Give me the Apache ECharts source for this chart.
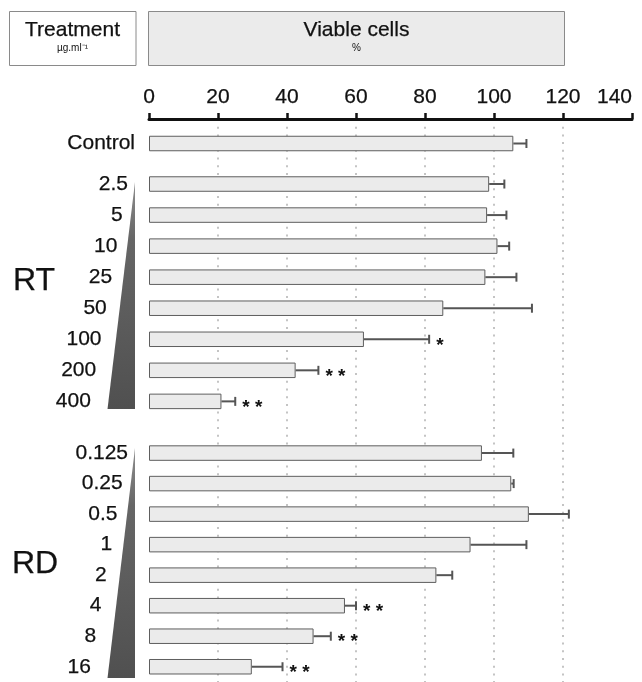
<!DOCTYPE html>
<html>
<head>
<meta charset="utf-8">
<script src="https://cdn.jsdelivr.net/npm/echarts@6/dist/echarts.min.js"></script>
<style>
  html, body { margin: 0; padding: 0; background: #fff; }
  #main { width: 642px; height: 682px; }
</style>
</head>
<body>
<div id="main"></div>
<script>
// data (viable cells, %)
let controlLabels = ['Control'];
let controlMean = [105.6];
let controlSd = [3.8];
let controlSig = [''];

let rtDoses = ['2.5', '5', '10', '25', '50', '100', '200', '400'];
let rtMean = [98.6, 98.0, 101.0, 97.5, 85.3, 62.3, 42.5, 21.0];
let rtSd = [4.4, 5.6, 3.4, 9.0, 25.7, 18.9, 6.6, 4.0];
let rtSig = ['', '', '', '', '', '*', '**', '**'];

let rdDoses = ['0.125', '0.25', '0.5', '1', '2', '4', '8', '16'];
let rdMean = [96.5, 105.0, 110.1, 93.2, 83.3, 56.8, 47.7, 29.8];
let rdSd = [9.1, 0.7, 11.6, 16.2, 4.6, 3.2, 5.0, 8.9];
let rdSig = ['', '', '', '', '', '**', '**', '**'];

let xTicks = [0, 20, 40, 60, 80, 100, 120, 140];

const FONT = '"Liberation Sans", Arial, Helvetica, sans-serif';
const INK = '#111';
const LEFT = 149, RIGHT = 10;
// a touch heavier than regular, the original uses a medium-weight sans
const heavy = { textBorderColor: INK, textBorderWidth: 0.25 };
const heavyG = { stroke: INK, lineWidth: 0.25 };

function stagger(n) {
  // labels step left along the wedge edge
  let rich = {};
  for (let i = 0; i < n; i++) {
    rich['s' + i] = Object.assign({ fontSize: 21, color: INK, fontFamily: FONT, padding: [0, i * 5.3, 0, 0] }, heavy);
  }
  return rich;
}

function errorBars(gridIdx, mean, sd, sig) {
  return {
    type: 'custom',
    xAxisIndex: gridIdx,
    yAxisIndex: gridIdx,
    z: 5,
    data: mean.map(function (m, i) { return [i, m, m + sd[i]]; }),
    encode: { x: [1, 2], y: 0 },
    renderItem: function (params, api) {
      let p0 = api.coord([api.value(1), api.value(0)]);
      let p1 = api.coord([api.value(2), api.value(0)]);
      let style = { stroke: '#555', lineWidth: 2 };
      let children = [
        { type: 'line', shape: { x1: p0[0], y1: p0[1], x2: p1[0], y2: p1[1] }, style: style },
        { type: 'line', shape: { x1: p1[0], y1: p1[1] - 4.5, x2: p1[0], y2: p1[1] + 4.5 }, style: style }
      ];
      let s = sig[params.dataIndex];
      if (s) {
        children.push({
          type: 'text',
          x: p1[0] + 7, y: p1[1] + 6,
          style: { text: s.split('').join(' '), fill: INK, fontSize: 19, fontWeight: 'bold',
                   fontFamily: FONT, verticalAlign: 'middle', align: 'left' }
        });
      }
      return { type: 'group', children: children };
    }
  };
}

function barSeries(gridIdx, mean) {
  return {
    type: 'bar',
    xAxisIndex: gridIdx,
    yAxisIndex: gridIdx,
    data: mean,
    barWidth: 15.5,
    itemStyle: { color: '#ebebeb', borderColor: '#5e5e5e', borderWidth: 1 },
    z: 3
  };
}

function hiddenX(idx) {
  return { type: 'value', gridIndex: idx, min: 0, max: 140, show: false };
}

function catY(idx, labels, margin, rich) {
  return {
    type: 'category',
    gridIndex: idx,
    data: labels,
    inverse: true,
    axisLine: { show: false },
    axisTick: { show: false },
    axisLabel: Object.assign({
      margin: margin,
      fontSize: 21,
      color: INK,
      fontFamily: FONT,
      formatter: rich ? function (v, i) { return '{s' + i + '|' + v + '}'; } : '{value}',
      rich: rich || {}
    }, heavy)
  };
}

function wedge(yTop, yBottom) {
  return {
    type: 'polygon',
    shape: { points: [[135, yTop], [135, yBottom], [107.5, yBottom]] },
    style: {
      fill: new echarts.graphic.LinearGradient(0, 0, 0, 1, [
        { offset: 0, color: '#8e8e8e' },
        { offset: 0.25, color: '#666' },
        { offset: 1, color: '#505050' }
      ])
    }
  };
}

function txt(x, y, text, size, extra) {
  return {
    type: 'text', x: x, y: y,
    style: Object.assign({ text: text, fontSize: size, fill: INK, fontFamily: FONT,
      align: 'center', verticalAlign: 'middle' }, extra || {})
  };
}

let myChart = echarts.init(document.getElementById('main'));
let option = {
  animation: false,
  backgroundColor: '#fff',
  textStyle: { fontFamily: FONT },
  grid: [
    { left: LEFT, right: RIGHT, top: 119, bottom: 0 },
    { left: LEFT, right: RIGHT, top: 128, height: 31 },
    { left: LEFT, right: RIGHT, top: 168.5, height: 248.4 },
    { left: LEFT, right: RIGHT, top: 437.8, height: 248.4 }
  ],
  xAxis: [
    {
      type: 'value',
      gridIndex: 0,
      position: 'top',
      min: xTicks[0],
      max: xTicks[xTicks.length - 1],
      interval: 20,
      axisLine: { show: true, onZero: false, lineStyle: { color: INK, width: 3 } },
      axisTick: { show: true, length: 6, lineStyle: { color: INK, width: 2.5 } },
      axisLabel: Object.assign({ fontSize: 21, color: INK, margin: 11, fontFamily: FONT,
        alignMaxLabel: 'right' }, heavy),
      splitLine: {
        show: true,
        showMinLine: false,
        showMaxLine: false,
        lineStyle: { color: '#c4c4c4', width: 2, type: [2, 5.7] }
      }
    },
    hiddenX(1), hiddenX(2), hiddenX(3)
  ],
  yAxis: [
    { type: 'value', gridIndex: 0, show: false, min: 0, max: 1 },
    catY(1, controlLabels, 14),
    catY(2, rtDoses, 21, stagger(rtDoses.length)),
    catY(3, rdDoses, 21, stagger(rdDoses.length))
  ],
  series: [
    barSeries(1, controlMean), errorBars(1, controlMean, controlSd, controlSig),
    barSeries(2, rtMean), errorBars(2, rtMean, rtSd, rtSig),
    barSeries(3, rdMean), errorBars(3, rdMean, rdSd, rdSig)
  ],
  graphic: [
    { type: 'rect', shape: { x: 9.5, y: 11.5, width: 126.5, height: 54 },
      style: { fill: '#fff', stroke: '#8a8a8a', lineWidth: 1 } },
    { type: 'rect', shape: { x: 148.5, y: 11.5, width: 416, height: 54 },
      style: { fill: '#ebebeb', stroke: '#8a8a8a', lineWidth: 1 } },
    txt(72.5, 30, 'Treatment', 21, heavyG),
    txt(72.5, 48, 'µg.ml⁻¹', 10),
    txt(356.5, 30, 'Viable cells', 21, heavyG),
    txt(356.5, 48, '%', 10),
    wedge(182, 409),
    wedge(448, 678),
    txt(13, 281, 'RT', 32, Object.assign({ align: 'left' }, heavyG)),
    txt(12, 564, 'RD', 32, Object.assign({ align: 'left' }, heavyG))
  ]
};
myChart.setOption(option);
</script>
</body>
</html>
